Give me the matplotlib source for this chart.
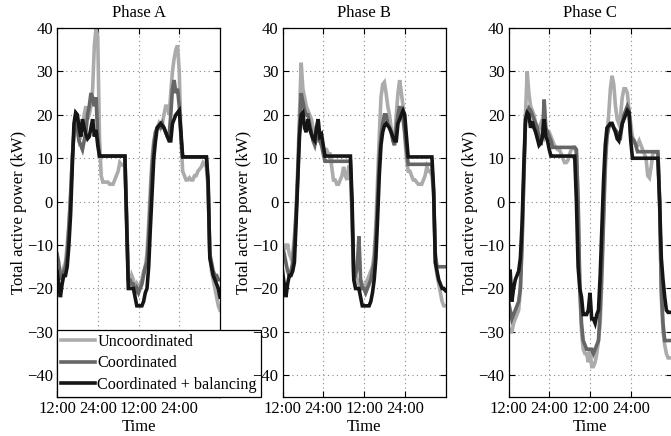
import numpy as np
import matplotlib
matplotlib.use('Agg')
import matplotlib.pyplot as plt

plt.rcParams['font.family'] = 'Liberation Serif'
plt.rcParams['font.size'] = 12

# half-hour samples, 12:00 day 1 to 12:00 day 3
hours = np.arange(12, 60.01, 0.5)

unc_a = [-13, -15, -17, -16, -15, -14, -10, -5, 2, 10, 16, 20,
         16, 14, 15, 17, 20, 22, 19, 20, 22, 26, 36, 40,
         38, 15, 6, 4.5, 4.5, 4.5, 4.5, 4, 4, 4, 5, 6,
         7, 9, 8.5, 8.5, 8, -3, -18, -19, -17, -18, -20, -19,
         -20, -19, -18, -16, -15, -12, -5, 3, 10, 14, 16, 17,
         18, 17, 18, 20, 22, 22, 20, 25, 30, 33, 35, 36,
         30, 15, 7, 6, 5, 5, 5.5, 5, 5, 6, 6, 7,
         7.5, 8, 9, 8.5, 8, 3, -12, -16, -18, -20, -22, -24,
         -25]
coord_a = [-12, -14, -18, -17, -16, -15, -12, -6, 1, 10, 16, 19,
           17, 14, 13, 12, 14, 16, 20, 22, 25, 24, 22, 24,
           15, 10.5, 10.5, 10.5, 10.5, 10.5, 10.5, 10.5, 10.5, 10.5, 10.5, 10.5,
           10.5, 10.5, 10.5, 10.5, 10.5, -4, -18, -18, -19, -19, -21, -20,
           -21, -20, -19, -17, -15, -14, -8, 0, 8, 13, 16, 17,
           17, 17, 18, 17, 16, 15, 15, 20, 26, 28, 25, 26,
           22, 15, 10.3, 10.3, 10.3, 10.3, 10.3, 10.3, 10.3, 10.3, 10.3, 10.3,
           10.3, 10.3, 10.3, 10.3, 10.3, 4, -12, -14, -16, -17, -17, -18,
           -18]
bal_a = [-16, -19, -22, -19, -17, -17, -15, -10, -3, 8, 18, 20.5,
         20, 17, 15, 19, 17, 15.5, 14.5, 15, 17, 19, 15, 16.5,
         13, 10.5, 10.5, 10.5, 10.5, 10.5, 10.5, 10.5, 10.5, 10.5, 10.5, 10.5,
         10.5, 10.5, 10.5, 10.5, 10.5, -5, -20, -20, -20, -20, -22, -24,
         -24, -24, -24, -23, -21, -20, -15, -6, 2, 10, 14, 17,
         17.5, 18, 17.5, 17, 16, 15, 14, 14, 18, 19, 20, 20.5,
         21, 16, 10.3, 10.3, 10.3, 10.3, 10.3, 10.3, 10.3, 10.3, 10.3, 10.3,
         10.3, 10.3, 10.3, 10.3, 10.3, 5, -13, -15, -17, -18, -19, -20,
         -22]

unc_b = [-12, -11, -10, -10, -12, -13, -12, -8, -2, 8, 20, 32,
         26, 24, 22, 21, 20, 19, 17, 16, 15, 14, 14, 13,
         12, 12, 12, 11, 11, 8, 5, 5, 4, 4, 5, 6,
         8, 6, 5, 8, 8, -5, -18, -19, -18, -19, -20, -19,
         -20, -19, -18, -17, -16, -15, -12, -5, 5, 15, 24, 27,
         27.5, 25, 22, 20, 17, 15, 14, 20, 25, 28, 25, 22,
         15, 10, 7, 7, 6, 5, 5, 4.5, 4, 4, 4, 5,
         6, 8, 7, 7, 6, 2, -14, -17, -19, -21, -23, -24,
         -24]
coord_b = [-11, -12, -14, -16, -17, -16, -14, -10, -3, 6, 17, 25,
           23, 21, 20, 20, 18, 16, 14, 13, 15, 17, 14, 13,
           11, 9.3, 9.3, 9.3, 9.3, 9.3, 9.3, 9.3, 9.3, 9.3, 9.3, 9.3,
           9.3, 9.3, 9.3, 9.3, 9.3, -3, -18, -17, -15, -8, -18, -20,
           -20, -21, -20, -19, -18, -16, -14, -8, 0, 10, 15, 18,
           20, 20, 18, 17, 16, 14, 13, 17, 20, 22, 20, 19,
           16, 12, 8.6, 8.6, 8.6, 8.6, 8.6, 8.6, 8.6, 8.6, 8.6, 8.6,
           8.6, 8.6, 8.6, 8.6, 8.6, 2, -12, -15, -15, -15, -15, -15,
           -15]
bal_b = [-16, -19, -22, -19, -17, -17, -16, -14, -5, 5, 15, 20,
         20.5, 17, 16, 19, 17, 15.5, 14.5, 14, 17, 19, 15, 15.5,
         13, 10.5, 10.5, 10.5, 10.5, 10.5, 10.5, 10.5, 10.5, 10.5, 10.5, 10.5,
         10.5, 10.5, 10.5, 10.5, 10.5, 0, -18, -20, -20, -20, -22, -24,
         -24, -24, -24, -24, -23, -21, -18, -13, -4, 6, 13, 16,
         17.5, 18, 17.5, 17, 16, 15, 14, 14, 18, 19, 20, 21,
         20, 15, 10.3, 10.3, 10.3, 10.3, 10.3, 10.3, 10.3, 10.3, 10.3, 10.3,
         10.3, 10.3, 10.3, 10.3, 10.3, 3, -14, -16, -18, -19, -20, -20,
         -20.5]

unc_c = [-29, -30, -30, -28, -27, -26, -25, -20, -8, 5, 20, 30,
         25, 22, 21, 20, 18, 17, 17, 18, 16, 15, 17, 16,
         16, 15, 14, 13, 12.5, 12, 12, 11, 10, 9, 9, 9.5,
         11, 12, 12.5, 12.5, 11, 0, -20, -30, -34, -35, -35, -37,
         -34, -38, -38, -37, -35, -32, -28, -18, -5, 7, 15, 20,
         26, 29, 27, 22, 19, 18, 20, 24, 26, 26, 25, 21,
         18, 15, 14, 13, 13, 14, 13, 12, 11, 10, 6, 5.5,
         8, 11, 11.5, 11.5, 11, 0, -22, -30, -33, -35, -36, -36,
         -36]
coord_c = [-23, -25, -27, -26, -25, -24, -23, -20, -10, 5, 18, 20,
           21.5, 21, 20, 19, 18, 17, 15, 13, 15, 23.5, 17, 16,
           15, 14, 12.5, 12.5, 12.5, 12.5, 12.5, 12.5, 12.5, 12.5, 12.5, 12.5,
           12.5, 12.5, 12.5, 12.5, 12, 0, -20, -28, -32, -33, -34, -34,
           -34, -34, -35, -34, -33, -32, -25, -15, -3, 10, 15, 17,
           18, 18, 17, 16.5, 16, 15.5, 15, 18, 20, 21, 22, 21,
           15, 14.5, 14, 13, 11.5, 11.5, 11.5, 11.5, 11.5, 11.5, 11.5, 11.5,
           11.5, 11.5, 11.5, 11.5, 11.5, 0, -20, -28, -32, -32, -32, -32,
           -32]
bal_c = [-16, -16, -23, -20, -18, -17, -16, -13, -5, 8, 19, 20.5,
         20, 17, 18.5, 17, 16, 14.5, 13, 13.5, 15, 19, 15, 14,
         12, 10.5, 10.5, 10.5, 10.5, 10.5, 10.5, 10.5, 10.5, 10.5, 10.5, 10.5,
         10.5, 10.5, 10.5, 10.5, 0, -15, -20, -22, -26, -26, -26, -25,
         -21, -27, -27, -28, -26, -25, -17, -6, 5, 13, 17, 17.5,
         18, 18, 17, 16, 14.5, 14, 16, 18, 19, 20, 21, 20.5,
         14, 10, 10, 10, 10, 10, 10, 10, 10, 10, 10, 10,
         10, 10, 10, 10, 10, 0, -13, -18, -22, -25, -25.5, -25.5,
         -25.5]

phases = ["Phase A", "Phase B", "Phase C"]
series = [(unc_a, coord_a, bal_a), (unc_b, coord_b, bal_b), (unc_c, coord_c, bal_c)]
labels = ["Uncoordinated", "Coordinated", "Coordinated + balancing"]
colors = ["#ababab", "#666666", "#151515"]

xticks = [12, 24, 36, 48]
xticklabels = ["12:00", "24:00", "12:00", "24:00"]

fig = plt.figure(figsize=(6.71, 4.36), dpi=100)
lefts = [57 / 671, 282.5 / 671, 508.5 / 671]
w = 163 / 671
bottom = 1 - 397 / 436
h = (397 - 28) / 436

axes = []
for i, name in enumerate(phases):
    ax = fig.add_axes([lefts[i], bottom, w, h])
    for vals, c, lab in zip(series[i], colors, labels):
        ax.plot(hours, vals, color=c, linewidth=2.6, label=lab, solid_joinstyle='miter')
    ax.set_xlim(12, 60)
    ax.set_ylim(-45, 40)
    ax.set_yticks(range(-40, 41, 10))
    ax.set_xticks(xticks)
    ax.set_xticklabels(xticklabels)
    ax.grid(True, linestyle=(0, (1, 3)), color='#888888', linewidth=0.8)
    ax.tick_params(direction='in', top=True, right=True, length=4, width=0.8,
                   labelsize=12, pad=3)
    for spine in ax.spines.values():
        spine.set_linewidth(0.9)
    ax.set_title(name, fontsize=12, pad=8)
    ax.set_xlabel("Time", fontsize=12, labelpad=1)
    ax.set_ylabel("Total active power (kW)", fontsize=12, labelpad=0)
    axes.append(ax)

leg = axes[0].legend(loc='lower left', bbox_to_anchor=(0, 0), borderaxespad=0,
                     fancybox=False, edgecolor='black', framealpha=1,
                     borderpad=0.25, labelspacing=0.35, handlelength=2.1,
                     handletextpad=0.15, fontsize=11.6)
leg.get_frame().set_linewidth(0.9)

fig.savefig("out.png", dpi=100)
